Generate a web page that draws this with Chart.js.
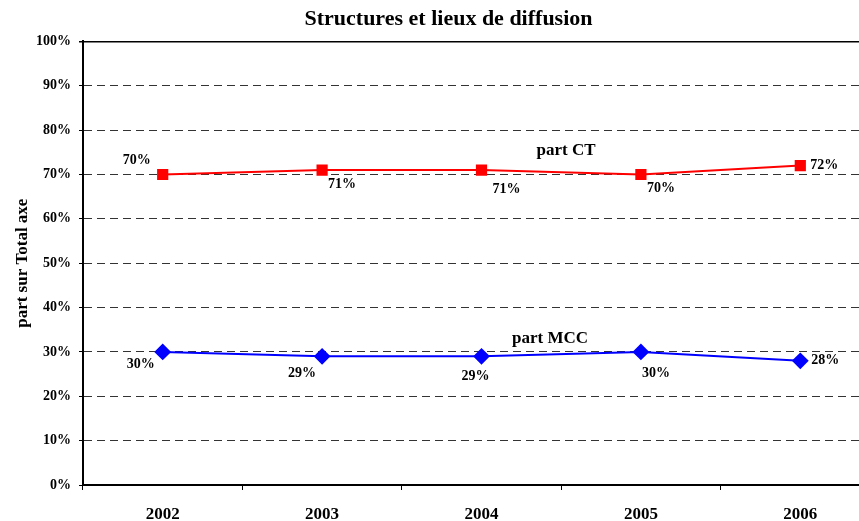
<!DOCTYPE html>
<html>
<head>
<meta charset="utf-8">
<script src="https://cdn.jsdelivr.net/npm/chart.js@4/dist/chart.umd.min.js"></script>
<style>
html,body{margin:0;padding:0;background:#fff;overflow:hidden;}
#wrap{width:889px;height:521px;}
canvas{display:block;}
</style>
</head>
<body>
<div id="wrap"><canvas id="c" width="889" height="521" style="width:889px;height:521px"></canvas></div>
<script>
const categories = ['2002', '2003', '2004', '2005', '2006'];
const partCT = [70, 71, 71, 70, 72];
const partMCC = [30, 29, 29, 30, 28];
const yTicks = [0, 10, 20, 30, 40, 50, 60, 70, 80, 90, 100];
const seriesNames = ['part CT', 'part MCC'];

// label offsets (pixels) per point: [dx, dy, align]
const ctLabelPos = [[-26, -14, 'center'], [20, 14, 'center'], [25, 19, 'center'], [20, 14, 'center'], [10, 0, 'left']];
const mccLabelPos = [[-22, 12, 'center'], [-20, 17, 'center'], [-6, 20, 'center'], [15, 21, 'center'], [11, 0, 'left']];

const FONT = "'Liberation Serif', 'Times New Roman', serif";

const labelPlugin = {
  id: 'labels',
  afterDatasetsDraw(chart) {
    const ctx = chart.ctx;
    ctx.save();
    ctx.fillStyle = '#000';
    ctx.font = 'bold 14px ' + FONT;
    ctx.textBaseline = 'middle';
    const sets = [[0, partCT, ctLabelPos], [1, partMCC, mccLabelPos]];
    sets.forEach(([di, vals, pos]) => {
      const meta = chart.getDatasetMeta(di);
      meta.data.forEach((pt, i) => {
        ctx.textAlign = pos[i][2];
        ctx.fillText(vals[i] + '%', pt.x + pos[i][0], pt.y + pos[i][1]);
      });
    });
    // series name annotations
    const xs = chart.scales.x, ys = chart.scales.y;
    ctx.font = 'bold 17px ' + FONT;
    ctx.textAlign = 'center';
    ctx.fillText(seriesNames[0], xs.getPixelForValue(2.53), ys.getPixelForValue(75.4));
    ctx.fillText(seriesNames[1], xs.getPixelForValue(2.43), ys.getPixelForValue(33.1));
    ctx.restore();
  }
};

new Chart(document.getElementById('c'), {
  type: 'line',
  data: {
    labels: categories,
    datasets: [
      {
        label: seriesNames[0], data: partCT,
        borderColor: '#ff0000', backgroundColor: '#ff0000',
        borderWidth: 2, pointStyle: 'rect', pointRadius: 6.5, pointHoverRadius: 6.5,
        tension: 0
      },
      {
        label: seriesNames[1], data: partMCC,
        borderColor: '#0000ff', backgroundColor: '#0000ff',
        borderWidth: 2, pointStyle: 'rectRot', pointRadius: 7, pointHoverRadius: 7,
        tension: 0
      }
    ]
  },
  options: {
    responsive: false,
    animation: false,
    layout: { padding: { left: 8, right: 0, top: 0, bottom: 0 } },
    plugins: {
      legend: { display: false },
      tooltip: { enabled: false },
      title: {
        display: true,
        text: 'Structures et lieux de diffusion',
        color: '#000',
        font: { family: FONT, size: 22, weight: 'bold' },
        padding: { top: 6, bottom: 9 }
      }
    },
    scales: {
      x: {
        offset: true,
        grid: {
          display: true, offset: true, drawOnChartArea: false, drawTicks: true,
          tickLength: 5, tickColor: '#000', tickWidth: 1
        },
        border: { display: true, color: '#000', width: 2 },
        ticks: {
          color: '#000', padding: 14,
          font: { family: FONT, size: 17, weight: 'bold' }
        },
        afterFit(scale) { scale.height = 36; }
      },
      y: {
        min: 0, max: 100,
        afterBuildTicks(scale) { scale.ticks = yTicks.map(v => ({ value: v })); },
        ticks: {
          color: '#000', padding: 8,
          font: { family: FONT, size: 14, weight: 'bold' },
          callback: v => v + '%'
        },
        grid: {
          color: c => (c.tick && c.tick.value === 100) ? '#000' : '#333',
          lineWidth: c => (c.tick && c.tick.value === 100) ? 1.5 : 1,
          tickLength: 4, tickColor: '#000', drawTicks: true
        },
        border: {
          display: true, color: '#000', width: 2,
          dash: c => (c.tick && c.tick.value === 100) ? [] : [8, 5]
        },
        title: {
          display: true, text: 'part sur Total axe', color: '#000',
          font: { family: FONT, size: 17, weight: 'bold' },
          padding: { top: 4, bottom: 4 }
        },
        afterFit(scale) { scale.width = 75; }
      }
    }
  },
  plugins: [labelPlugin]
});
</script>
</body>
</html>
